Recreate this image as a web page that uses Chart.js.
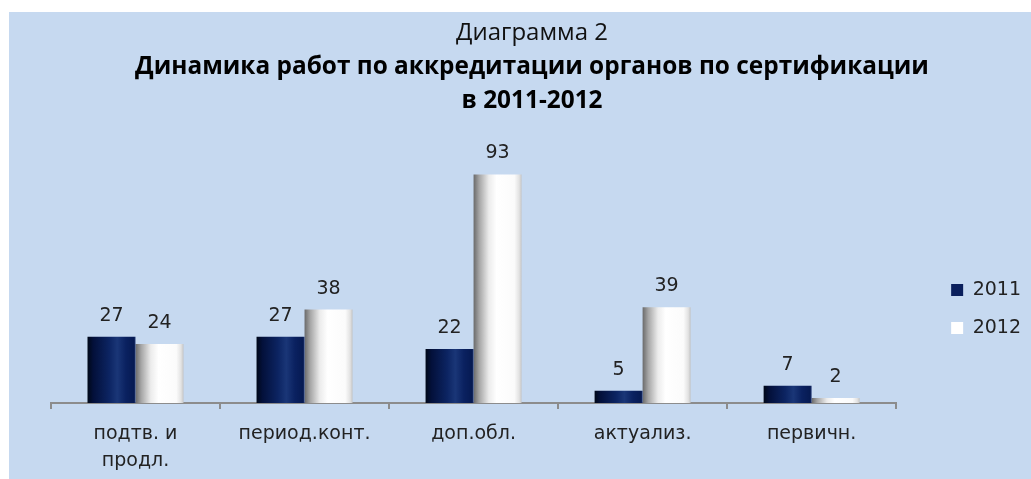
<!DOCTYPE html>
<html>
<head>
<meta charset="utf-8">
<script src="https://cdn.jsdelivr.net/npm/chart.js@4/dist/chart.umd.min.js"></script>
<style>
  html, body { margin: 0; padding: 0; background: #ffffff; }
  #panel { position: absolute; left: 9px; top: 12px; width: 1022px; height: 467px; background: #c6d9f0; }
  #chart { display: block; }
</style>
</head>
<body>
<div id="panel"><canvas id="chart" width="1022" height="467"></canvas></div>
<script>
const categories = [['подтв. и', 'продл.'], 'период.конт.', 'доп.обл.', 'актуализ.', 'первичн.'];
const seriesNames = ['2011', '2012'];
const values2011 = [27, 27, 22, 5, 7];
const values2012 = [24, 38, 93, 39, 2];
const titleLine = 'Диаграмма 2';
const subtitleLines = ['Динамика работ по аккредитации органов по сертификации', 'в 2011-2012'];

const CAT_PCT = 0.568;
const TEXT = '#222222';
const FONT = 'DejaVu Sans';

function barGradient(ctx, stops) {
  const chart = ctx.chart;
  const xs = chart.scales.x;
  if (!xs || ctx.dataIndex === undefined) return stops[0][1];
  const n = chart.data.labels.length;
  const cat = (xs.right - xs.left) / n;
  const group = cat * CAT_PCT;
  const bw = group / chart.data.datasets.length;
  const center = xs.getPixelForValue(ctx.dataIndex);
  const left = center - group / 2 + ctx.datasetIndex * bw;
  const g = chart.ctx.createLinearGradient(left, 0, left + bw, 0);
  stops.forEach(s => g.addColorStop(s[0], s[1]));
  return g;
}
const navyStops = [[0, '#000817'], [0.12, '#03103a'], [0.45, '#0c2462'], [0.62, '#1a3677'], [0.8, '#0a2160'], [0.97, '#061a52'], [1, '#2a3f78']];
const whiteStops = [[0, '#6a6a6a'], [0.12, '#a6a6a6'], [0.32, '#ececec'], [0.48, '#ffffff'], [0.85, '#fbfbfb'], [0.95, '#e2e2e2'], [1, '#c4c4c4']];

const valueLabels = {
  id: 'valueLabels',
  afterDatasetsDraw(chart) {
    const c = chart.ctx;
    c.save();
    c.font = '19px "' + FONT + '"';
    c.fillStyle = TEXT;
    c.textAlign = 'center';
    c.textBaseline = 'alphabetic';
    chart.data.datasets.forEach((ds, di) => {
      const meta = chart.getDatasetMeta(di);
      meta.data.forEach((el, i) => {
        c.fillText(String(ds.data[i]), el.x, el.y - 16);
      });
    });
    c.restore();
  }
};

new Chart(document.getElementById('chart'), {
  type: 'bar',
  data: {
    labels: categories,
    datasets: [
      { label: seriesNames[0], data: values2011, backgroundColor: c => barGradient(c, navyStops), borderWidth: 0 },
      { label: seriesNames[1], data: values2012, backgroundColor: c => barGradient(c, whiteStops), borderWidth: 0 }
    ]
  },
  options: {
    responsive: false,
    animation: false,
    devicePixelRatio: 1,
    layout: { padding: { left: 24, right: 0, top: 0, bottom: 0 } },
    datasets: { bar: { categoryPercentage: CAT_PCT, barPercentage: 1 } },
    scales: {
      x: {
        grid: { display: true, drawOnChartArea: false, drawTicks: true, tickLength: 6, color: '#8c8c8c', lineWidth: 2 },
        border: { display: true, color: '#8c8c8c', width: 2 },
        ticks: { color: TEXT, font: { family: FONT, size: 19, lineHeight: 1.4 }, padding: 12, maxRotation: 0 },
        afterFit(s) { s.height = 76; }
      },
      y: {
        position: 'right',
        min: 0, max: 100,
        display: true,
        grid: { display: false },
        border: { display: false },
        ticks: { display: false },
        afterFit(s) { s.width = 36; }
      },
      yLeft: {
        position: 'left',
        min: 0, max: 100,
        display: true,
        grid: { display: false },
        border: { display: false },
        ticks: { display: false },
        afterFit(s) { s.width = 18; }
      }
    },
    plugins: {
      title: {
        display: true, text: titleLine, color: '#111111',
        font: { family: 'Open Sans', size: 24, weight: 'normal', lineHeight: 1.2 },
        padding: { top: 7, bottom: 0 }
      },
      subtitle: {
        display: true, text: subtitleLines, color: '#000000',
        font: { family: 'Open Sans', size: 24.4, weight: 'bold', lineHeight: 1.36 },
        padding: { top: 3, bottom: 40 }
      },
      legend: {
        position: 'right',
        align: 'center',
        title: { display: true, text: ' ', font: { size: 1 }, padding: { top: 126, bottom: 0 } },
        labels: {
          boxWidth: 12, boxHeight: 12, padding: 19, color: TEXT,
          font: { family: FONT, size: 19 },
          generateLabels(chart) {
            return chart.data.datasets.map((ds, i) => ({
              text: ds.label,
              fillStyle: i === 0 ? '#0a1f5c' : '#ffffff',
              strokeStyle: 'rgba(0,0,0,0)',
              lineWidth: 0,
              fontColor: TEXT,
              datasetIndex: i,
              hidden: false
            }));
          }
        }
      },
      tooltip: { enabled: false }
    }
  },
  plugins: [valueLabels]
});
</script>
</body>
</html>
